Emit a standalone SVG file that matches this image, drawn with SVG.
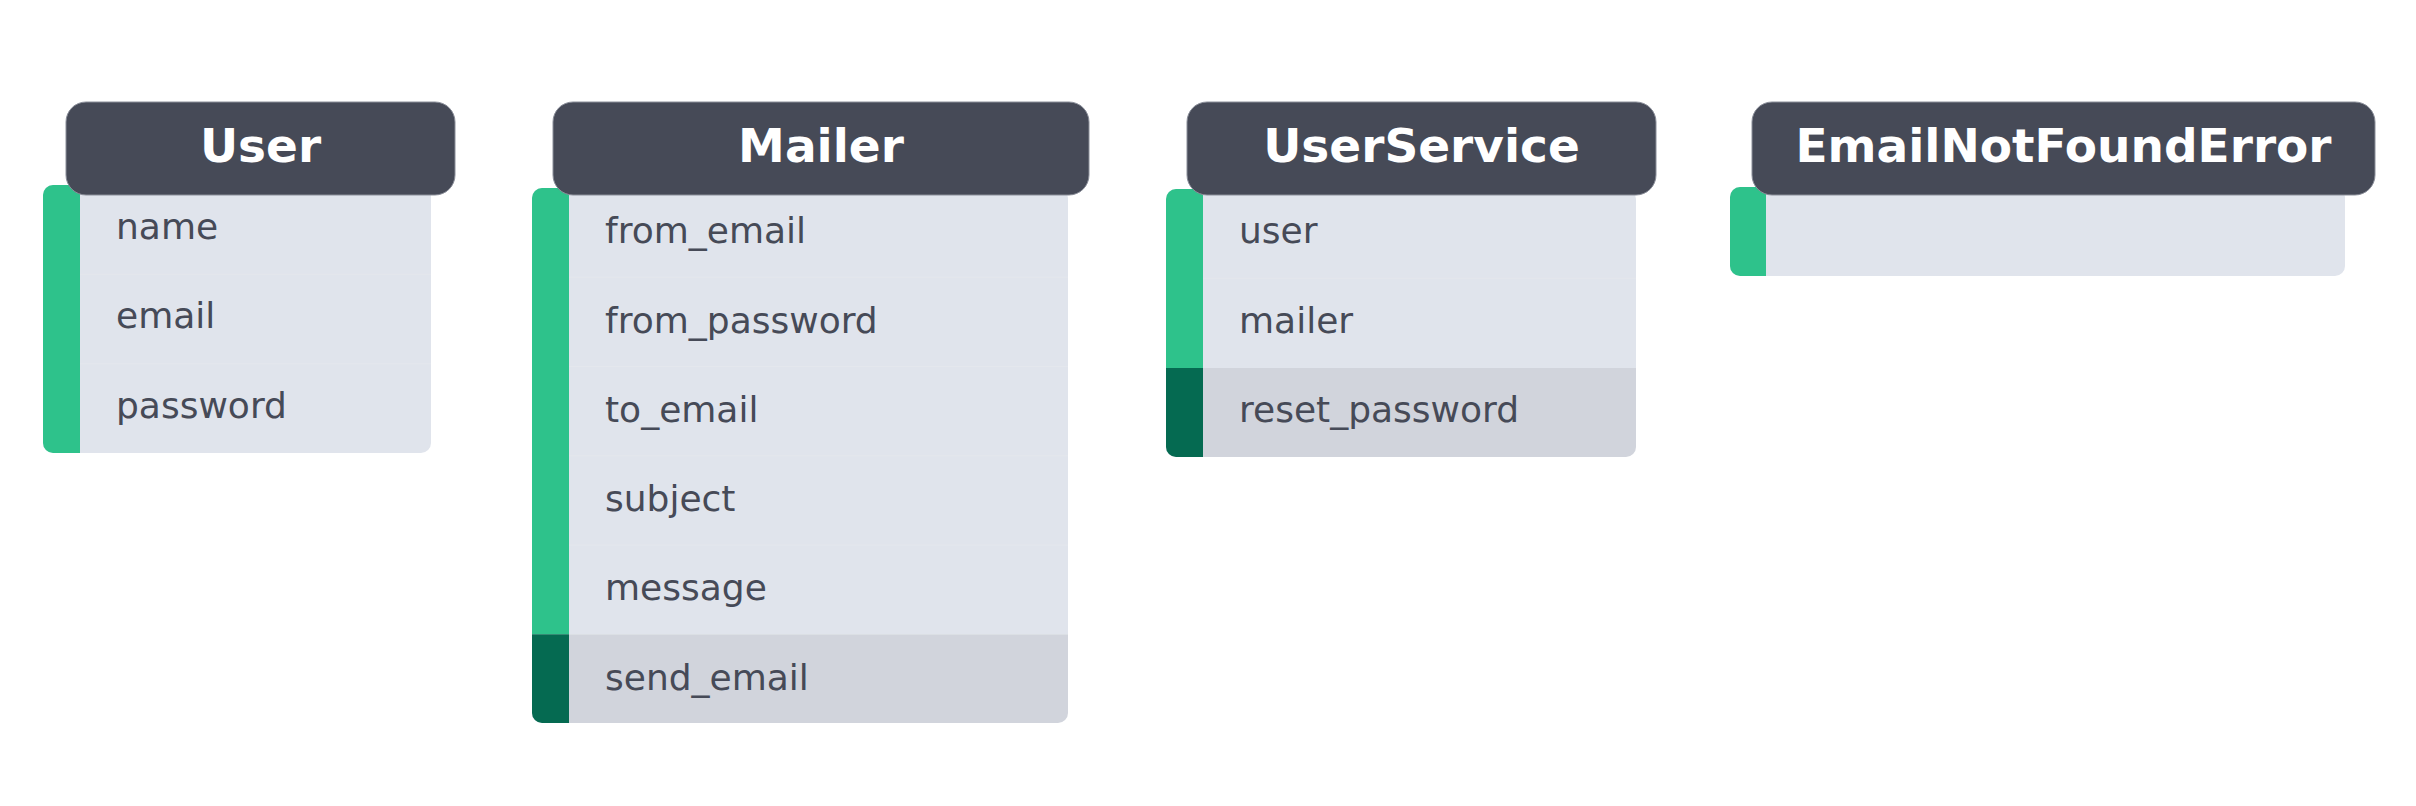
<svg xmlns="http://www.w3.org/2000/svg" width="2416" height="806" viewBox="0 0 2416 806">
  <style>
    .hdr { fill: #464A57; stroke: #8A8E99; stroke-width: 1; }
    .title { font-family: "DejaVu Sans", "Liberation Sans", sans-serif; font-weight: bold; font-size: 47px; fill: #FFFFFF; text-anchor: middle; }
    .field { fill: #E0E4EC; }
    .method { fill: #D1D4DC; }
    .gbar { fill: #2EC28B; }
    .dbar { fill: #056A51; }
    .sep { stroke: #E4E7ED; stroke-width: 1; }
    .row { font-family: "DejaVu Sans", "Liberation Sans", sans-serif; font-size: 36px; fill: #464A57; }
  </style>
  <defs>
    <clipPath id="clipUser"><rect x="43" y="185" width="388" height="268" rx="10"/></clipPath>
    <clipPath id="clipMailer"><rect x="532" y="188" width="536" height="535" rx="10"/></clipPath>
    <clipPath id="clipUserService"><rect x="1166" y="189" width="470" height="268" rx="10"/></clipPath>
    <clipPath id="clipENFE"><rect x="1730" y="187" width="615" height="89" rx="10"/></clipPath>
  </defs>
  <rect width="2416" height="806" fill="#FFFFFF"/>

  <g id="User">
    <g clip-path="url(#clipUser)">
      <rect class="field" x="43" y="185" width="388" height="268"/>
      <rect class="gbar" x="43" y="185" width="37" height="268"/>
      <line class="sep" x1="80" y1="274.3" x2="431" y2="274.3"/>
      <line class="sep" x1="80" y1="363.7" x2="431" y2="363.7"/>
    </g>
    <rect class="hdr" x="66" y="102" width="389" height="93" rx="20"/>
    <text class="title" x="260.5" y="162">User</text>
    <text class="row" x="116" y="239">name</text>
    <text class="row" x="116" y="328">email</text>
    <text class="row" x="116" y="418">password</text>
  </g>

  <g id="Mailer">
    <g clip-path="url(#clipMailer)">
      <rect class="field" x="532" y="188" width="536" height="446.3"/>
      <rect class="method" x="532" y="634.3" width="536" height="89"/>
      <rect class="gbar" x="532" y="188" width="37" height="446.3"/>
      <rect class="dbar" x="532" y="634.3" width="37" height="89"/>
      <line class="sep" x1="569" y1="277.2" x2="1068" y2="277.2"/>
      <line class="sep" x1="569" y1="366.5" x2="1068" y2="366.5"/>
      <line class="sep" x1="569" y1="455.8" x2="1068" y2="455.8"/>
      <line class="sep" x1="569" y1="545" x2="1068" y2="545"/>
    </g>
    <rect class="hdr" x="553" y="102" width="536" height="93" rx="20"/>
    <text class="title" x="821" y="162">Mailer</text>
    <text class="row" x="605" y="243">from_email</text>
    <text class="row" x="605" y="333">from_password</text>
    <text class="row" x="605" y="422">to_email</text>
    <text class="row" x="605" y="511">subject</text>
    <text class="row" x="605" y="600">message</text>
    <text class="row" x="605" y="690">send_email</text>
  </g>

  <g id="UserService">
    <g clip-path="url(#clipUserService)">
      <rect class="field" x="1166" y="189" width="470" height="179"/>
      <rect class="method" x="1166" y="368" width="470" height="89"/>
      <rect class="gbar" x="1166" y="189" width="37" height="179"/>
      <rect class="dbar" x="1166" y="368" width="37" height="89"/>
      <line class="sep" x1="1203" y1="278.3" x2="1636" y2="278.3"/>
    </g>
    <rect class="hdr" x="1187" y="102" width="469" height="93" rx="20"/>
    <text class="title" x="1421.5" y="162">UserService</text>
    <text class="row" x="1239" y="243">user</text>
    <text class="row" x="1239" y="333">mailer</text>
    <text class="row" x="1239" y="422">reset_password</text>
  </g>

  <g id="EmailNotFoundError">
    <g clip-path="url(#clipENFE)">
      <rect class="field" x="1730" y="187" width="615" height="89"/>
      <rect class="gbar" x="1730" y="187" width="36" height="89"/>
    </g>
    <rect class="hdr" x="1752" y="102" width="623" height="93" rx="20"/>
    <text class="title" x="2063.5" y="162">EmailNotFoundError</text>
  </g>

  <g id="connectors"></g>
</svg>
